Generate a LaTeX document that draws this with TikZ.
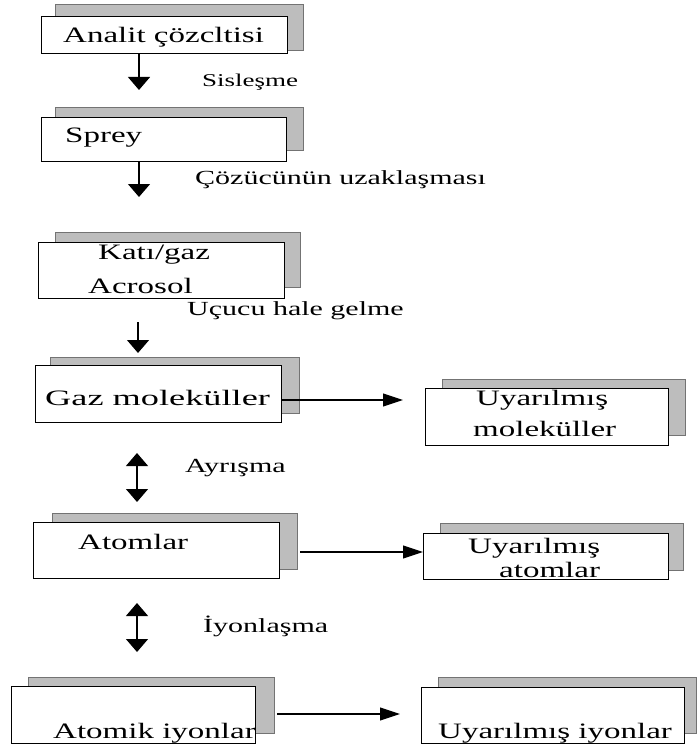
\documentclass[tikz,border=0pt]{standalone}
\usepackage{fontspec}
\setmainfont{Liberation Serif}
\usetikzlibrary{arrows.meta}
\newcommand\hstr[1]{\scalebox{1.5}[1]{#1}}
\newcommand\mkbox[9]{%
  \node[shad, minimum width=#8pt, minimum height=#9pt] (#1s) at (#6,#7) {};
  \node[front, minimum width=#4pt, minimum height=#5pt] (#1) at (#2,#3) {};}
\begin{document}
\begin{tikzpicture}[x=1pt,y=-1pt,
  front/.style={draw=black, line width=1.3pt, fill=white, anchor=north west, inner sep=0pt},
  shad/.style={draw=black!55, line width=0.8pt, fill=black!26, anchor=north west, inner sep=0pt},
  btxt/.style={anchor=base west, inner sep=0pt, font=\fontsize{22}{26}\selectfont},
  ltxt/.style={anchor=base west, inner sep=0pt, font=\fontsize{20}{24}\selectfont},
  darr/.style={line width=1.3pt, -{Triangle[width=22pt,length=13pt]}},
  ddarr/.style={line width=1.3pt, {Triangle[width=22pt,length=13pt]}-{Triangle[width=22pt,length=13pt]}},
  harr/.style={line width=1.1pt, -{Triangle[width=13pt,length=20pt]}}]
\useasboundingbox (0,0) rectangle (696,746);
% boxes: name, front x,y,w,h, shadow x,y,w,h
\mkbox{b1}{41}{16}{246}{37}{55}{4}{248}{46}
\mkbox{b2}{41}{117}{245}{44}{55}{107}{248}{43}
\mkbox{b3}{38}{242}{246}{56}{55}{232}{245}{55}
\mkbox{b4}{35}{365}{246}{57}{50}{357}{249}{56}
\mkbox{b5}{425}{388}{243}{57}{442}{379}{243}{56}
\mkbox{b6}{33}{522}{246}{56}{52}{513}{245}{56}
\mkbox{b7}{423}{533}{245}{46}{440}{523}{243}{47}
\mkbox{b8}{11}{686}{244}{57}{28}{677}{246}{56}
\mkbox{b9}{421}{687}{263}{56}{438}{677}{258}{56}
% box texts
\node[btxt] (t1) at (63,43) {\hstr{Analit çözcltisi}};
\node[btxt] (t2) at (65,143) {\hstr{Sprey}};
\node[btxt] (t3a) at (98,259) {\hstr{Katı/gaz}};
\node[btxt] (t3b) at (88,293) {\hstr{Acrosol}};
\node[btxt] (t4) at (45,405) {\scalebox{1.65}[1]{Gaz moleküller}};
\node[btxt] (t5a) at (476,405) {\hstr{Uyarılmış}};
\node[btxt] (t5b) at (473,436) {\hstr{moleküller}};
\node[btxt] (t6) at (78,549) {\hstr{Atomlar}};
\node[btxt] (t7a) at (468,553) {\hstr{Uyarılmış}};
\node[btxt] (t7b) at (499,577) {\hstr{atomlar}};
\node[btxt] (t8) at (53,738) {\hstr{Atomik iyonlar}};
\node[btxt] (t9) at (438,738) {\hstr{Uyarılmış iyonlar}};
% labels
\node[ltxt, font=\fontsize{18}{22}\selectfont] (l1) at (202,87) {\hstr{Sisleşme}};
\node[ltxt] (l2) at (195,185) {\hstr{Çözücünün uzaklaşması}};
\node[ltxt] (l3) at (187,315) {\hstr{Uçucu hale gelme}};
\node[ltxt] (l4) at (185,472) {\hstr{Ayrışma}};
\node[ltxt] (l5) at (203,632) {\hstr{İyonlaşma}};
% vertical arrows
\coordinate (a1) at (139,90);
\draw[darr] (a1 |- b1.south) -- (a1);
\coordinate (a2) at (139,197);
\draw[darr] (a2 |- b2.south) -- (a2);
\coordinate (a3s) at (138,322);
\coordinate (a3) at (138,353);
\draw[darr] (a3s) -- (a3);
\coordinate (d1a) at (137,453);
\coordinate (d1b) at (137,502);
\draw[ddarr] (d1a) -- (d1b);
\coordinate (d2a) at (137,603);
\coordinate (d2b) at (137,652);
\draw[ddarr] (d2a) -- (d2b);
% horizontal arrows
\coordinate (h1) at (403,400);
\draw[harr] (b4.east |- h1) -- (h1);
\coordinate (h2) at (300,552);
\draw[harr] (h2) -- (b7.west |- h2);
\coordinate (h3s) at (277,714);
\coordinate (h3) at (400,714);
\draw[harr] (h3s) -- (h3);
\end{tikzpicture}
\end{document}
